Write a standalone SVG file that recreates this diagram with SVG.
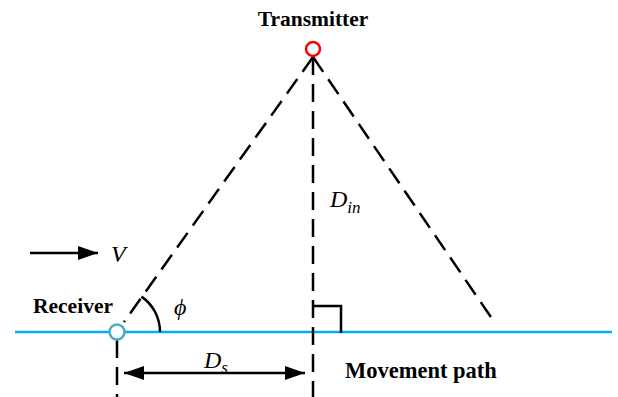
<svg xmlns="http://www.w3.org/2000/svg" width="618" height="397" viewBox="0 0 618 397">
<style>
.dash{stroke:#000;stroke-width:2.5;stroke-dasharray:18,9;fill:none}
.solid{stroke:#000;stroke-width:2.5;fill:none}
.lbl{font-family:"Liberation Serif","Times New Roman",serif;font-weight:bold;font-size:21.5px;fill:#000}
.math{font-family:"Liberation Serif","Times New Roman",serif;font-style:italic;font-size:24px;fill:#000}
.sub{font-size:17px}
</style>
<defs>
<marker id="ah" viewBox="0 0 20 14" refX="20" refY="7" markerWidth="20" markerHeight="14" markerUnits="userSpaceOnUse" orient="auto-start-reverse">
<path d="M0,0 L20,7 L0,14 Z" fill="#000"/>
</marker>
</defs>
<g id="connectors">
<line x1="15" y1="332" x2="612" y2="332" stroke="#00B0F0" stroke-width="2.5"/>
<line class="dash" x1="313" y1="57" x2="124" y2="322"/>
<line class="dash" x1="313" y1="57" x2="495" y2="323"/>
<line class="dash" x1="313" y1="57" x2="313" y2="397"/>
<line class="dash" x1="117" y1="340" x2="117" y2="397"/>
<polyline class="solid" points="313,306 341,306 341,333"/>
<path class="solid" d="M160,332 A43,43 0 0 0 141.5,296.6"/>
<line class="solid" x1="124" y1="373" x2="305" y2="373" marker-start="url(#ah)" marker-end="url(#ah)"/>
<line class="solid" x1="30" y1="253" x2="98" y2="253" marker-end="url(#ah)"/>
</g>
<g id="transmitter">
<circle cx="313" cy="49" r="7" fill="#fff" stroke="#FF0000" stroke-width="2.5"/>
<text class="lbl" x="313" y="26" text-anchor="middle">Transmitter</text>
</g>
<g id="receiver">
<circle cx="117" cy="332" r="7.5" fill="#fff" stroke="#4BACC6" stroke-width="2.5"/>
<text class="lbl" x="33" y="313">Receiver</text>
</g>
<g id="movement-path">
<text class="lbl" x="345" y="378" style="font-size:22.5px">Movement path</text>
</g>
<g id="labels">
<text class="math" x="111" y="262">V</text>
<text class="math" x="174" y="315">ϕ</text>
<text class="math" x="330" y="207">D<tspan class="sub" dy="6">in</tspan></text>
<text class="math" x="204" y="368">D<tspan class="sub" dy="5">s</tspan></text>
</g>
</svg>
